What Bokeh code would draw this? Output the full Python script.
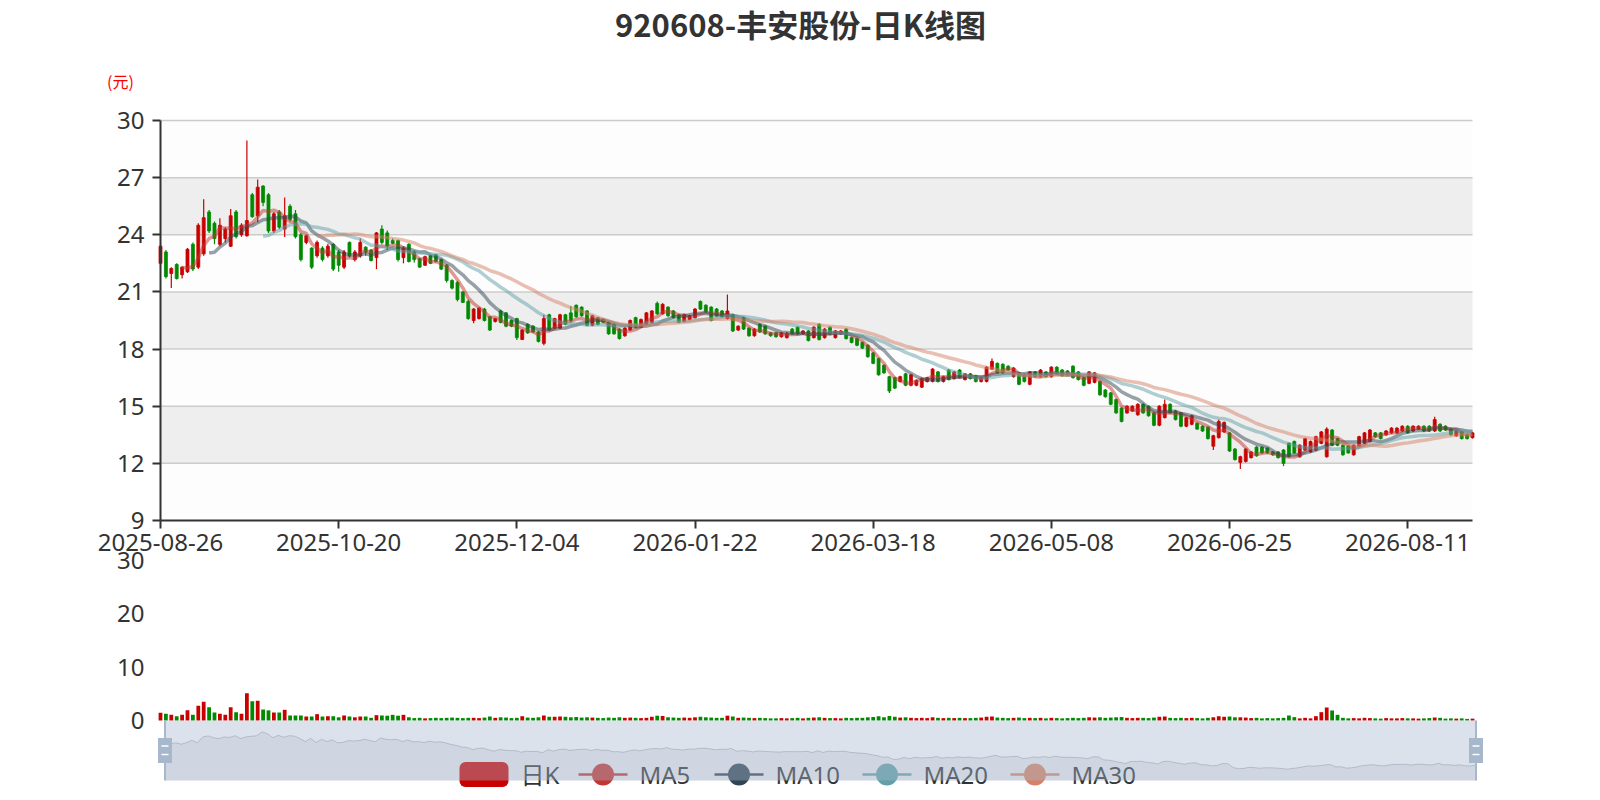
import numpy as np
from bokeh.plotting import figure
from bokeh.models import Range1d, LinearAxis, FixedTicker, ColumnDataSource
from bokeh.core.properties import value
from bokeh.embed import file_html
from bokeh.resources import INLINE

# ---------------- data ----------------
title_text = "920608-丰安股份-日K线图"
unit_text = "(元)"
tick_dates = ["2025-08-26", "2025-10-20", "2025-12-04", "2026-01-22",
              "2026-03-18", "2026-05-08", "2026-06-25", "2026-08-11"]
tick_step = 33
price_ticks = [9, 12, 15, 18, 21, 24, 27, 30]
volume_ticks = [0, 10, 20, 30]
ma_windows = [5, 10, 20, 30]
legend_labels = ["日K", "MA5", "MA10", "MA20", "MA30"]

opens = [
    22.5, 23.1, 21.97, 22.44, 21.9, 22.06, 23.5, 22.3, 23.0, 25.2,
    24.6, 23.5, 23.8, 23.4, 25.2, 24.0, 23.95, 26.1, 25.0, 26.56,
    26.1, 24.2, 25.2, 24.3, 25.5, 25.1, 24.0, 23.6, 23.3, 22.9,
    23.3, 22.9, 23.5, 23.1, 22.3, 23.6, 22.7, 22.9, 23.35, 23.2,
    22.8, 24.3, 24.1, 23.7, 23.7, 22.8, 23.5, 23.1, 22.75, 22.4,
    22.9, 22.95, 22.7, 22.4, 21.6, 21.5, 21.0, 20.5, 19.5, 19.6,
    20.1, 19.7, 19.45, 20.0, 19.9, 19.5, 19.6, 18.5, 19.3, 19.2,
    18.9, 18.3, 19.8, 19.1, 19.1, 19.8, 19.9, 20.3, 20.2, 20.0,
    19.25, 19.65, 19.55, 19.4, 19.3, 19.05, 18.7, 19.0, 19.65, 19.15,
    19.3, 19.4, 20.4, 19.85, 20.2, 20.0, 19.8, 19.45, 19.55, 19.65,
    20.5, 20.3, 20.2, 20.1, 20.0, 19.6, 19.8, 19.0, 19.65, 19.1,
    18.7, 19.3, 19.2, 18.85, 18.85, 18.65, 18.6, 19.05, 19.15, 18.8,
    18.95, 18.6, 19.3, 18.6, 19.15, 18.6, 18.8, 19.05, 18.6, 18.55,
    18.35, 18.2, 17.8, 17.5, 17.15, 16.55, 16.5, 16.3, 16.7, 16.1,
    16.1, 16.0, 16.3, 16.3, 16.8, 16.3, 16.9, 16.45, 16.9, 16.4,
    16.7, 16.6, 16.3, 16.3, 16.95, 17.25, 17.2, 17.1, 16.55, 16.75,
    16.65, 16.15, 16.8, 16.55, 16.8, 16.55, 17.05, 16.9, 16.85, 17.1,
    16.8, 16.5, 16.2, 16.25, 16.3, 15.85, 15.7, 15.35, 14.9, 14.65,
    14.75, 14.55, 15.1, 15.0, 14.65, 14.0, 14.4, 15.1, 14.75, 14.65,
    13.95, 14.05, 14.1, 13.95, 13.9, 12.9, 13.35, 13.65, 13.6, 12.75,
    12.05, 12.1, 12.3, 12.85, 12.85, 12.8, 12.6, 12.6, 12.7, 13.05,
    13.15, 12.35, 12.7, 12.6, 12.7, 13.05, 12.35, 13.75, 13.3, 12.95,
    12.9, 12.45, 12.9, 13.05, 13.15, 13.6, 13.6, 13.5, 13.6, 13.6,
    13.7, 13.95, 13.7, 13.8, 13.95, 13.95, 13.7, 14.05, 13.95, 13.8,
    13.45, 13.65, 13.5, 13.35,
]
closes = [
    23.4, 21.8, 22.23, 21.7, 22.3, 23.24, 22.2, 24.5, 24.9, 24.2,
    23.8, 24.5, 24.3, 25.0, 23.9, 24.5, 24.75, 24.95, 26.5, 25.7,
    24.2, 25.1, 24.4, 25.0, 24.8, 23.9, 22.7, 23.95, 22.3, 23.6,
    22.7, 23.4, 22.2, 22.4, 23.1, 22.9, 23.1, 23.6, 23.1, 22.65,
    24.1, 23.6, 23.4, 23.55, 22.7, 23.3, 22.6, 22.7, 22.3, 22.85,
    22.5, 22.6, 22.2, 21.6, 21.2, 20.6, 20.45, 19.6, 20.1, 20.15,
    19.5, 19.0, 19.6, 19.4, 19.2, 19.2, 18.6, 19.0, 18.85, 18.9,
    18.4, 19.6, 19.0, 19.6, 19.8, 19.3, 19.5, 19.7, 19.75, 19.25,
    19.75, 19.3, 19.4, 18.8, 18.8, 18.55, 19.1, 19.5, 19.15, 19.55,
    19.9, 20.0, 19.85, 20.35, 19.75, 19.65, 19.4, 19.8, 19.75, 20.1,
    20.1, 19.95, 19.5, 19.75, 19.7, 20.0, 18.95, 19.2, 19.05, 18.7,
    19.05, 18.9, 18.8, 18.7, 18.65, 18.85, 18.8, 18.8, 18.8, 18.95,
    18.45, 19.15, 18.5, 19.05, 18.8, 18.95, 18.95, 18.55, 18.35, 18.2,
    18.05, 17.6, 17.25, 16.65, 16.75, 15.8, 15.95, 16.55, 16.1, 16.65,
    16.35, 16.45, 16.5, 16.95, 16.3, 16.55, 16.4, 16.8, 16.5, 16.7,
    16.45, 16.3, 16.5, 17.05, 17.35, 16.75, 16.75, 16.9, 17.0, 16.15,
    16.3, 16.8, 16.55, 16.9, 16.55, 17.05, 16.7, 16.6, 16.65, 16.5,
    16.4, 16.1, 16.8, 16.75, 15.6, 15.5, 15.1, 14.65, 14.2, 15.0,
    15.0, 15.1, 14.65, 14.5, 14.0, 15.0, 15.1, 14.65, 14.3, 13.95,
    14.4, 14.5, 13.8, 13.7, 13.3, 13.45, 14.2, 14.15, 12.65, 12.2,
    12.35, 12.75, 12.6, 12.4, 12.55, 12.55, 12.45, 12.3, 12.0, 12.35,
    12.55, 12.95, 13.3, 13.15, 13.4, 13.65, 13.8, 12.95, 12.95, 12.45,
    12.55, 12.95, 13.4, 13.6, 13.75, 13.4, 13.3, 13.7, 13.85, 13.85,
    13.95, 13.6, 13.95, 13.95, 13.7, 13.7, 14.3, 13.7, 13.75, 13.5,
    13.7, 13.3, 13.3, 13.6,
]
highs = [
    23.5, 23.2, 22.3, 22.5, 22.35, 23.3, 23.6, 24.6, 25.87, 25.3,
    24.7, 24.87, 24.4, 25.35, 25.3, 24.6, 28.95, 26.2, 26.9, 26.6,
    26.2, 25.2, 25.3, 25.96, 25.6, 25.3, 24.1, 24.0, 23.35, 23.7,
    23.4, 23.53, 23.55, 23.2, 23.2, 23.65, 23.2, 23.8, 23.4, 23.25,
    24.14, 24.5, 24.23, 23.8, 23.75, 23.4, 23.55, 23.17, 22.8, 22.9,
    22.95, 23.0, 22.75, 22.46, 21.66, 21.58, 21.04, 20.6, 20.16, 20.2,
    20.16, 19.72, 19.65, 20.07, 19.95, 19.55, 19.65, 19.05, 19.35, 19.25,
    18.95, 19.8, 19.85, 19.65, 19.85, 19.85, 20.26, 20.34, 20.25, 20.05,
    19.8, 19.7, 19.6, 19.45, 19.35, 19.1, 19.15, 19.55, 19.7, 19.6,
    19.95, 20.05, 20.5, 20.4, 20.25, 20.05, 19.85, 19.85, 19.8, 20.15,
    20.55, 20.35, 20.25, 20.15, 20.05, 20.86, 19.85, 19.25, 19.7, 19.15,
    19.1, 19.35, 19.25, 18.9, 18.9, 18.9, 18.9, 19.1, 19.2, 19.0,
    19.0, 19.2, 19.35, 19.1, 19.2, 19.0, 19.0, 19.1, 18.65, 18.6,
    18.4, 18.25, 17.85, 17.55, 17.2, 16.6, 16.55, 16.6, 16.75, 16.7,
    16.4, 16.5, 16.55, 17.0, 16.85, 16.6, 16.95, 16.85, 16.95, 16.75,
    16.75, 16.65, 16.55, 17.1, 17.5, 17.3, 17.25, 17.15, 17.05, 16.8,
    16.7, 16.85, 16.85, 16.95, 16.85, 17.1, 17.1, 16.95, 16.9, 17.15,
    16.85, 16.55, 16.85, 16.8, 16.35, 15.9, 15.75, 15.4, 14.95, 15.05,
    15.05, 15.15, 15.15, 15.05, 14.7, 15.05, 15.35, 15.15, 14.8, 14.7,
    14.45, 14.55, 14.15, 14.0, 13.95, 13.5, 14.3, 14.2, 13.65, 12.8,
    12.4, 12.8, 12.65, 12.9, 12.9, 12.85, 12.65, 12.65, 12.75, 13.1,
    13.2, 13.0, 13.35, 13.2, 13.45, 13.7, 13.9, 13.8, 13.35, 13.0,
    12.95, 13.0, 13.45, 13.65, 13.8, 13.65, 13.65, 13.75, 13.9, 13.9,
    14.0, 14.0, 14.0, 14.0, 14.0, 14.0, 14.45, 14.1, 14.0, 13.85,
    13.75, 13.7, 13.55, 13.65,
]
lows = [
    22.3, 21.7, 21.2, 21.65, 21.7, 22.0, 22.1, 22.2, 22.9, 24.1,
    23.5, 23.4, 23.6, 23.36, 23.8, 23.9, 23.9, 24.9, 24.66, 25.5,
    24.1, 24.1, 24.3, 23.88, 24.7, 23.8, 22.6, 23.5, 22.2, 22.8,
    22.6, 22.8, 22.1, 22.06, 22.2, 22.8, 22.6, 22.8, 22.9, 22.6,
    22.2, 23.5, 23.2, 23.5, 22.6, 22.5, 22.55, 22.55, 22.28, 22.37,
    22.46, 22.55, 22.15, 21.49, 21.13, 20.5, 20.42, 19.54, 19.36, 19.55,
    19.45, 18.95, 19.4, 19.36, 19.15, 19.15, 18.48, 18.48, 18.8, 18.85,
    18.35, 18.2, 18.95, 19.05, 19.05, 19.25, 19.4, 19.65, 19.7, 19.2,
    19.2, 19.25, 19.35, 18.75, 18.75, 18.5, 18.65, 18.95, 19.1, 19.1,
    19.25, 19.35, 19.8, 19.8, 19.7, 19.6, 19.35, 19.4, 19.5, 19.6,
    20.05, 19.9, 19.45, 19.7, 19.65, 19.55, 18.9, 18.95, 19.0, 18.65,
    18.65, 18.85, 18.75, 18.65, 18.6, 18.6, 18.55, 18.75, 18.75, 18.75,
    18.4, 18.55, 18.45, 18.55, 18.75, 18.55, 18.75, 18.5, 18.3, 18.15,
    18.0, 17.55, 17.2, 16.6, 16.7, 15.7, 15.9, 16.25, 16.05, 16.05,
    16.05, 15.95, 16.25, 16.25, 16.25, 16.25, 16.35, 16.4, 16.45, 16.35,
    16.4, 16.25, 16.25, 16.25, 16.9, 16.7, 16.7, 16.85, 16.5, 16.1,
    16.25, 16.1, 16.5, 16.5, 16.5, 16.5, 16.65, 16.55, 16.6, 16.45,
    16.35, 16.05, 16.15, 16.2, 15.55, 15.45, 15.05, 14.6, 14.15, 14.6,
    14.7, 14.5, 14.6, 14.45, 13.95, 13.95, 14.35, 14.6, 14.25, 13.9,
    13.9, 14.0, 13.75, 13.65, 13.25, 12.7, 13.3, 13.6, 12.6, 12.15,
    11.7, 12.05, 12.25, 12.35, 12.5, 12.5, 12.4, 12.25, 11.85, 12.3,
    12.5, 12.3, 12.65, 12.55, 12.65, 13.0, 12.3, 12.9, 12.9, 12.4,
    12.5, 12.4, 12.85, 13.0, 13.1, 13.35, 13.25, 13.45, 13.55, 13.55,
    13.65, 13.55, 13.65, 13.75, 13.65, 13.65, 13.65, 13.65, 13.7, 13.45,
    13.4, 13.25, 13.25, 13.3,
]
volumes = [
    1.44, 1.25, 1.06, 0.8, 1.06, 1.9, 1.06, 2.75, 3.5, 2.5,
    1.5, 1.25, 1.06, 2.5, 1.56, 1.25, 5.1, 3.6, 3.7, 2.06,
    1.9, 1.5, 1.5, 2.0, 0.94, 0.94, 0.94, 0.75, 0.75, 1.19,
    0.75, 0.8, 0.8, 0.6, 0.94, 0.75, 0.6, 0.75, 0.75, 0.5,
    1.0, 0.94, 0.9, 1.06, 0.9, 1.06, 0.6, 0.45, 0.5, 0.4,
    0.45, 0.5, 0.45, 0.5, 0.55, 0.5, 0.45, 0.5, 0.5, 0.45,
    0.55, 0.75, 0.5, 0.6, 0.55, 0.45, 0.5, 0.8, 0.55, 0.5,
    0.6, 0.94, 0.7, 0.7, 0.75, 0.7, 0.6, 0.65, 0.55, 0.6,
    0.55, 0.5, 0.45, 0.55, 0.5, 0.6, 0.5, 0.55, 0.5, 0.45,
    0.5, 0.7, 0.9, 0.85, 0.6, 0.55, 0.5, 0.55, 0.5, 0.6,
    0.7, 0.6, 0.55, 0.5, 0.5, 0.9, 0.75, 0.5, 0.55, 0.5,
    0.45, 0.5, 0.45, 0.4, 0.4, 0.45, 0.4, 0.45, 0.5, 0.4,
    0.5, 0.55, 0.6, 0.5, 0.45, 0.45, 0.4, 0.5, 0.45, 0.5,
    0.5, 0.6, 0.65, 0.8, 0.6, 0.85, 0.7, 0.55, 0.6, 0.5,
    0.45, 0.5, 0.45, 0.6, 0.5, 0.45, 0.5, 0.45, 0.5, 0.45,
    0.45, 0.5, 0.55, 0.7, 0.75, 0.55, 0.5, 0.45, 0.5, 0.55,
    0.45, 0.5, 0.45, 0.5, 0.4, 0.5, 0.45, 0.4, 0.45, 0.5,
    0.45, 0.5, 0.6, 0.55, 0.6, 0.5, 0.55, 0.6, 0.65, 0.5,
    0.45, 0.5, 0.5, 0.45, 0.55, 0.7, 0.75, 0.5, 0.45, 0.5,
    0.45, 0.5, 0.45, 0.4, 0.5, 0.6, 0.8, 0.7, 0.75, 0.6,
    0.6, 0.55, 0.45, 0.5, 0.4, 0.45, 0.4, 0.45, 0.5, 0.94,
    0.63, 0.4, 0.5, 0.4, 0.81, 1.56, 2.44, 1.88, 1.06, 0.5,
    0.4, 0.45, 0.4, 0.5, 0.45, 0.4, 0.35, 0.45, 0.4, 0.4,
    0.45, 0.4, 0.4, 0.35, 0.4, 0.45, 0.56, 0.5, 0.35, 0.4,
    0.35, 0.4, 0.3, 0.35,
]

# ---------------- style ----------------
UP, DOWN = "#c80000", "#008a00"
MA_COLORS = ["#c23531", "#2f4554", "#61a0a8", "#d48265"]
TEXT = "#333333"
BAND_COLORS = ["#fdfdfd", "#eeeeee"]
FILLER = (167, 183, 204)
HANDLE = "#a7b7cc"

# ---------------- layout (picture pixels; the figure sits at the top-left) ----------------
W, H = 1584, 798
PAGE = 0
GRID_L, GRID_R = 160, 1472
PRICE_TOP, PRICE_BOT = 120, 520
VOL_TOP, VOL_BOT = 560, 720
DZ_TOP, DZ_BOT = 720, 780
DZ_L, DZ_R = 164.5, 1475.5
LEG_Y = 774
LEG_ICON_L = [459, 578, 714, 862, 1010]
LEG_ICON_W, LEG_ICON_H, LEG_GAP = 49, 25, 12


def _lin(v_a, p_a, v_b, p_b):
    return lambda pg: v_a + (pg - p_a) * (v_b - v_a) / (p_b - p_a)


def rng_x(v_a, p_a, v_b, p_b):
    f = _lin(v_a, p_a, v_b, p_b)
    return Range1d(start=f(PAGE), end=f(PAGE + W))


def rng_y(v_a, p_a, v_b, p_b):
    f = _lin(v_a, p_a, v_b, p_b)
    return Range1d(start=f(PAGE + H), end=f(PAGE))


o = np.array(opens, dtype=float)
c = np.array(closes, dtype=float)
h = np.array(highs, dtype=float)
l = np.array(lows, dtype=float)
v = np.array(volumes, dtype=float)
n = len(c)
idx = np.arange(n)
colors = np.where(c >= o, UP, DOWN)

cmin, cmax = c.min(), c.max()
pad = 0.3 * (cmax - cmin)
dz_hi, dz_lo = cmax + pad, cmin - pad

p = figure(width=W, height=H,
           x_range=rng_x(0, GRID_L, n - 1, GRID_R),
           y_range=rng_y(price_ticks[-1], PRICE_TOP, price_ticks[0], PRICE_BOT),
           x_axis_type=None, y_axis_type=None, toolbar_location=None,
           output_backend="svg", min_border=0, title=None)
p.extra_x_ranges = {
    "px": rng_x(PAGE, PAGE, PAGE + W, PAGE + W),
    "dzx": rng_x(0, DZ_L, n - 1, DZ_R),
}
p.extra_y_ranges = {
    "py": rng_y(PAGE, PAGE, PAGE + H, PAGE + H),
    "vol": rng_y(volume_ticks[-1], VOL_TOP, volume_ticks[0], VOL_BOT),
    "dz": rng_y(dz_hi, DZ_TOP, dz_lo, DZ_BOT),
}
p.outline_line_color = None
p.background_fill_color = "white"
p.border_fill_color = "white"

# split areas and split lines
band_lo = price_ticks[:-1]
band_hi = price_ticks[1:]
band_col = [BAND_COLORS[k % 2] for k in range(len(band_lo))]
p.quad(left=0, right=n - 1, bottom=band_lo, top=band_hi,
       fill_color=band_col, line_color=None)
p.segment(x0=0, x1=n - 1, y0=price_ticks[1:], y1=price_ticks[1:],
          line_color="#cccccc", line_width=1.5)

src = ColumnDataSource(dict(x=idx, o=o, c=c, h=h, l=l,
                            top=np.maximum(o, c), bottom=np.minimum(o, c),
                            color=colors, vol=v))

# candles
p.segment(x0="x", x1="x", y0="l", y1="h", line_color="color",
          line_width=1.2, source=src)
p.vbar(x="x", width=0.55, top="top", bottom="bottom", fill_color="color",
       line_color="color", line_width=0.8, source=src)

# moving averages
for w, col in zip(ma_windows, MA_COLORS):
    ma = np.full(n, np.nan)
    for i in range(w - 1, n):
        ma[i] = c[i - w + 1:i + 1].mean()
    p.line(idx, ma, line_color=col, line_width=3.5, line_alpha=0.5)

# volume
p.vbar(x="x", width=0.7, top="vol", bottom=0, fill_color="color",
       line_color=None, y_range_name="vol", source=src)

# axes
yax = LinearAxis(ticker=FixedTicker(ticks=price_ticks), fixed_location=0,
                 bounds=(price_ticks[0], price_ticks[-1]))
yax.axis_line_color = TEXT
yax.axis_line_width = 2
yax.major_tick_line_color = TEXT
yax.major_tick_line_width = 2
yax.major_tick_out = 8
yax.major_tick_in = 0
yax.minor_tick_line_color = None
yax.major_label_text_font = "Noto Sans"
yax.major_label_text_font_size = "24px"
yax.major_label_text_color = TEXT
yax.major_label_standoff = 8
p.add_layout(yax, "left")

vax = LinearAxis(ticker=FixedTicker(ticks=volume_ticks), fixed_location=0,
                 y_range_name="vol", bounds=(volume_ticks[0], volume_ticks[-1]))
vax.axis_line_color = None
vax.major_tick_line_color = None
vax.minor_tick_line_color = None
vax.major_tick_out = 0
vax.major_tick_in = 0
vax.major_label_text_font = "Noto Sans"
vax.major_label_text_font_size = "24px"
vax.major_label_text_color = TEXT
vax.major_label_standoff = 16
p.add_layout(vax, "left")

x_ticks = [k * tick_step for k in range(len(tick_dates))]
xax = LinearAxis(ticker=FixedTicker(ticks=x_ticks), fixed_location=price_ticks[0],
                 bounds=(0, n - 1),
                 major_label_overrides={t: d for t, d in zip(x_ticks, tick_dates)})
xax.axis_line_color = TEXT
xax.axis_line_width = 2
xax.major_tick_line_color = TEXT
xax.major_tick_line_width = 2
xax.major_tick_out = 8
xax.major_tick_in = 0
xax.minor_tick_line_color = None
xax.major_label_text_font = "Noto Sans"
xax.major_label_text_font_size = "24px"
xax.major_label_text_color = TEXT
xax.major_label_standoff = 5
p.add_layout(xax, "below")

# title and unit
p.text(x=[800], y=[23], text=[title_text],
       x_range_name="px", y_range_name="py", text_align="center",
       text_baseline="middle", text_font=value("Noto Sans CJK SC"),
       text_font_style="bold", text_font_size="31px", text_color=TEXT)
p.text(x=[120], y=[80], text=[unit_text], x_range_name="px", y_range_name="py",
       text_align="center", text_baseline="middle",
       text_font=value("Noto Sans CJK SC"), text_font_size="16px",
       text_color="#ff0000")

# data zoom shadow
p.varea(x=idx, y1=dz_lo, y2=c, x_range_name="dzx", y_range_name="dz",
        fill_color="#2f4554", fill_alpha=0.1)
p.line(idx, c, x_range_name="dzx", y_range_name="dz",
       line_color="#2f4554", line_alpha=0.3, line_width=1)

# legend (drawn under the data zoom filler as in the original)
leg_l = np.array(LEG_ICON_L, dtype=float)
try:
    p.quad(left=[leg_l[0]], right=[leg_l[0] + LEG_ICON_W],
           top=[LEG_Y - LEG_ICON_H / 2], bottom=[LEG_Y + LEG_ICON_H / 2],
           x_range_name="px", y_range_name="py", fill_color=UP,
           line_color=None, border_radius=6)
except Exception:
    p.quad(left=[leg_l[0]], right=[leg_l[0] + LEG_ICON_W],
           top=[LEG_Y - LEG_ICON_H / 2], bottom=[LEG_Y + LEG_ICON_H / 2],
           x_range_name="px", y_range_name="py", fill_color=UP,
           line_color=None)
p.segment(x0=leg_l[1:], x1=leg_l[1:] + LEG_ICON_W, y0=LEG_Y, y1=LEG_Y,
          line_color=MA_COLORS, line_width=2.5,
          x_range_name="px", y_range_name="py")
p.scatter(x=leg_l[1:] + LEG_ICON_W / 2, y=[LEG_Y] * 4, size=22,
          marker="circle", fill_color=MA_COLORS, line_color=None,
          x_range_name="px", y_range_name="py")
p.text(x=leg_l + LEG_ICON_W + LEG_GAP, y=[LEG_Y] * len(legend_labels),
       text=legend_labels, x_range_name="px", y_range_name="py",
       text_align="left", text_baseline="middle",
       text_font=value("Noto Sans, Noto Sans CJK SC"), text_font_size="24px",
       text_color=TEXT)

# data zoom filler and handles (on top)
p.quad(left=[DZ_L], right=[DZ_R], top=[DZ_TOP], bottom=[DZ_BOT],
       x_range_name="px", y_range_name="py", fill_color=FILLER,
       fill_alpha=0.4, line_color=None, level="overlay")
hx = np.array([DZ_L, DZ_R])
hy_mid = (DZ_TOP + DZ_BOT) / 2
p.segment(x0=hx, x1=hx, y0=DZ_TOP, y1=DZ_BOT, line_color=HANDLE, line_width=2,
          x_range_name="px", y_range_name="py", level="overlay")
p.quad(left=hx - 7, right=hx + 7, top=hy_mid - 12.5, bottom=hy_mid + 12.5,
       x_range_name="px", y_range_name="py", fill_color=HANDLE,
       line_color=None, level="overlay")
for dy in (-4.5, 4.0):
    p.segment(x0=hx - 3.5, x1=hx + 3.5, y0=hy_mid + dy, y1=hy_mid + dy,
              line_color="white", line_width=1.5,
              x_range_name="px", y_range_name="py", level="overlay")

open("out.html", "w").write(file_html(p, INLINE))
